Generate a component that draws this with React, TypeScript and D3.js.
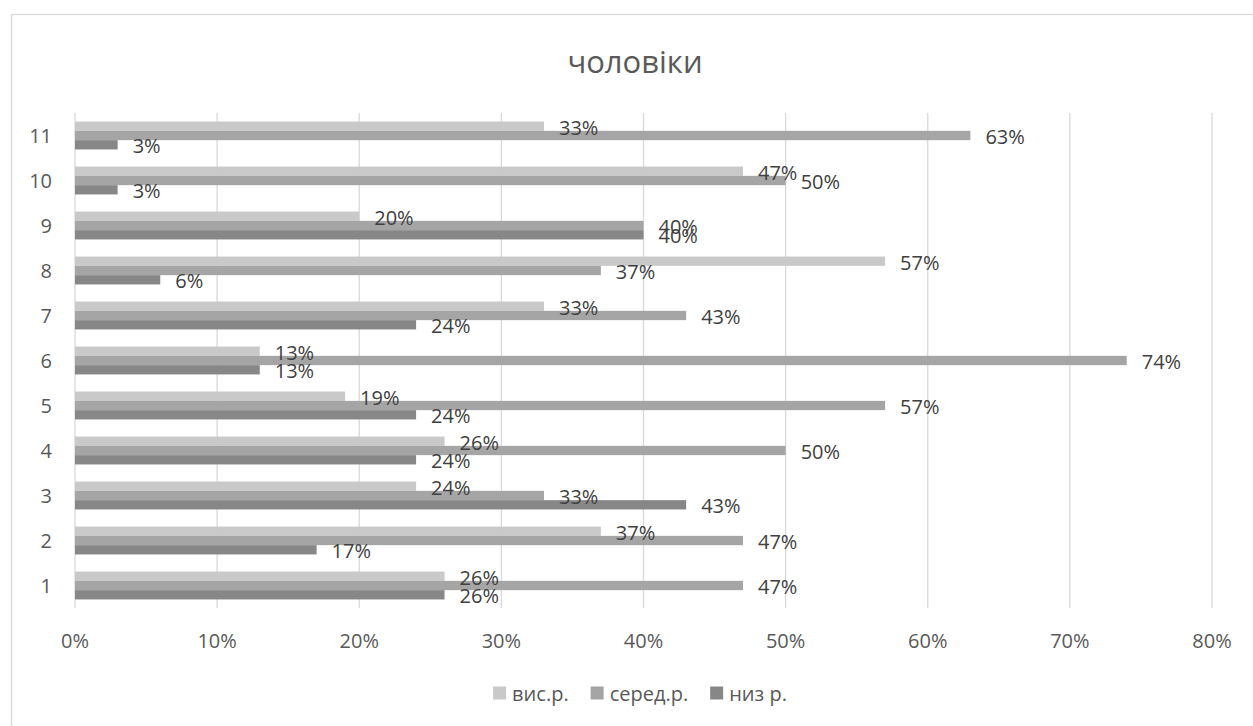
import React, { useEffect, useRef } from "react";
import * as d3 from "d3";

// Survey shares by group (1–11) for men, three levels
const categories = ["1", "2", "3", "4", "5", "6", "7", "8", "9", "10", "11"];
const seriesNames = ["вис.р.", "серед.р.", "низ р."];
const highValues = [26, 37, 24, 26, 19, 13, 33, 57, 20, 47, 33];
const midValues = [47, 47, 33, 50, 57, 74, 43, 37, 40, 50, 63];
const lowValues = [26, 17, 43, 24, 24, 13, 24, 6, 40, 3, 3];
const xTicks = [0, 10, 20, 30, 40, 50, 60, 70, 80];
const seriesColors = ["#c9c9c9", "#a5a5a5", "#878787"];
const titleText = "чоловіки";

const W = 1253;
const H = 726;
const FONT = "'Open Sans', 'Noto Sans', sans-serif";

export default function App() {
  const ref = useRef<SVGSVGElement | null>(null);

  useEffect(() => {
    const svg = d3.select(ref.current);
    svg.selectAll("*").remove();

    const series = [highValues, midValues, lowValues];

    const x = d3.scaleLinear().domain([0, 80]).range([75, 1212]);
    const y = d3
      .scaleBand<string>()
      .domain(categories)
      .range([608, 113])
      .paddingInner(0.38)
      .paddingOuter(0.19);
    const sub = d3
      .scaleBand<number>()
      .domain([0, 1, 2])
      .range([0, y.bandwidth()]);

    // chart frame
    svg
      .append("rect")
      .attr("x", 11.5)
      .attr("y", 14.5)
      .attr("width", W)
      .attr("height", H)
      .attr("fill", "#fff")
      .attr("stroke", "#d9d9d9")
      .attr("stroke-width", 1.3);

    // title
    svg
      .append("text")
      .attr("x", 635)
      .attr("y", 61)
      .attr("text-anchor", "middle")
      .attr("dominant-baseline", "central")
      .attr("font-family", FONT)
      .attr("font-size", 31)
      .attr("fill", "#595959")
      .text(titleText);

    // vertical gridlines
    svg
      .append("g")
      .selectAll("line")
      .data(xTicks)
      .join("line")
      .attr("x1", (d) => x(d))
      .attr("x2", (d) => x(d))
      .attr("y1", 113)
      .attr("y2", 608)
      .attr("stroke", "#d9d9d9")
      .attr("stroke-width", 1.3);

    // x tick labels
    svg
      .append("g")
      .selectAll("text")
      .data(xTicks)
      .join("text")
      .attr("x", (d) => x(d))
      .attr("y", 640)
      .attr("text-anchor", "middle")
      .attr("dominant-baseline", "central")
      .attr("font-family", FONT)
      .attr("font-size", 20)
      .attr("fill", "#595959")
      .text((d) => `${d}%`);

    // category labels
    svg
      .append("g")
      .selectAll("text")
      .data(categories)
      .join("text")
      .attr("x", 52)
      .attr("y", (d) => (y(d) as number) + y.bandwidth() / 2)
      .attr("text-anchor", "end")
      .attr("dominant-baseline", "central")
      .attr("font-family", FONT)
      .attr("font-size", 20)
      .attr("fill", "#595959")
      .text((d) => d);

    // bars
    series.forEach((vals, si) => {
      const g = svg.append("g");
      g.selectAll("rect")
        .data(vals)
        .join("rect")
        .attr("x", x(0))
        .attr("y", (_, i) => (y(categories[i]) as number) + (sub(si) as number))
        .attr("width", (d) => x(d) - x(0))
        .attr("height", sub.bandwidth())
        .attr("fill", seriesColors[si]);
    });

    // data labels
    series.forEach((vals, si) => {
      const g = svg.append("g");
      g.selectAll("text")
        .data(vals)
        .join("text")
        .attr("x", (d) => x(d) + 15)
        .attr(
          "y",
          (_, i) =>
            (y(categories[i]) as number) + (sub(si) as number) + sub.bandwidth() / 2 + 1
        )
        .attr("dominant-baseline", "central")
        .attr("font-family", FONT)
        .attr("font-size", 20)
        .attr("fill", "#404040")
        .text((d) => `${d}%`);
    });

    // legend
    const legend = svg.append("g");
    const items: { g: d3.Selection<SVGGElement, unknown, null, undefined>; w: number }[] = [];
    seriesNames.forEach((name, si) => {
      const item = legend.append("g");
      item
        .append("rect")
        .attr("x", 0)
        .attr("y", -6.5)
        .attr("width", 13)
        .attr("height", 13)
        .attr("fill", seriesColors[si]);
      const t = item
        .append("text")
        .attr("x", 19)
        .attr("y", 0)
        .attr("dominant-baseline", "central")
        .attr("font-family", FONT)
        .attr("font-size", 20)
        .attr("fill", "#595959")
        .text(name);
      const tw = (t.node() as SVGTextElement).getComputedTextLength();
      items.push({ g: item, w: 19 + tw });
    });
    const gap = 22;
    const total = items.reduce((s, it) => s + it.w, 0) + gap * (items.length - 1);
    let cursor = 640 - total / 2;
    items.forEach((it) => {
      it.g.attr("transform", `translate(${cursor},693)`);
      cursor += it.w + gap;
    });
  }, []);

  return (
    <svg
      ref={ref}
      width={W}
      height={H}
      style={{ position: "fixed", left: 0, top: 0, background: "#fff" }}
    />
  );
}
